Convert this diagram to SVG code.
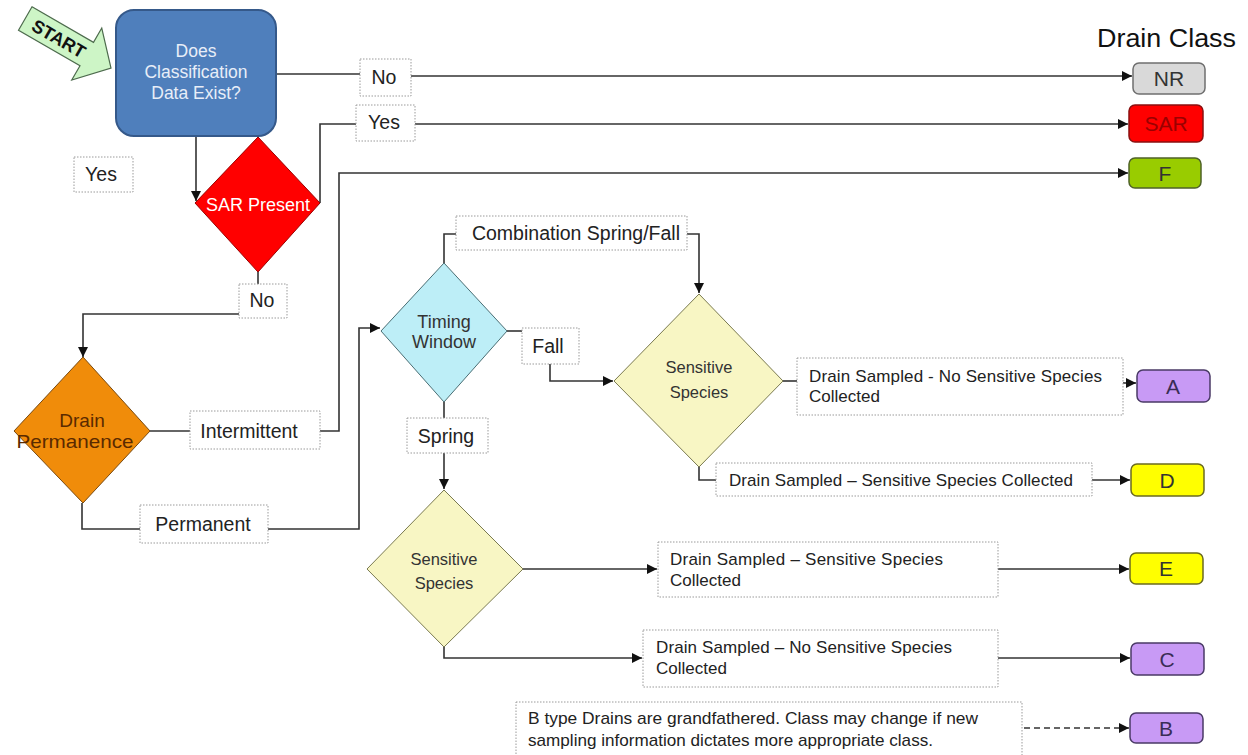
<svg xmlns="http://www.w3.org/2000/svg" width="1248" height="755" viewBox="0 0 1248 755">
<defs>
<marker id="ah" viewBox="0 0 10 10" refX="10" refY="5" markerWidth="10" markerHeight="10" markerUnits="userSpaceOnUse" orient="auto"><path d="M0,0 L10,5 L0,10 z" fill="#111"/></marker>
</defs>
<style>
text{font-family:"Liberation Sans",Arial,sans-serif}
.lbl{fill:#fff;stroke:#9a9a9a;stroke-width:1;stroke-dasharray:1.5,1.5}
.lt{font-size:19.5px;fill:#222}
.st{font-size:17px;fill:#222}
.c{fill:none;stroke:#333;stroke-width:1.6}
.cls{stroke-width:1.5}
.ct{font-size:21px;text-anchor:middle}
.dt{text-anchor:middle}
</style>
<rect width="1248" height="755" fill="#fff"/>

<g id="start">
<g transform="translate(111,68) rotate(30)">
<polygon points="-99,-13.5 -28,-13.5 -28,-30 0,0 -28,30 -28,13.5 -99,13.5" fill="#cdf5c6" stroke="#4d6b4d" stroke-width="1.2"/>
<text x="-60" y="7" font-size="18" font-weight="bold" fill="#111" text-anchor="middle">START</text>
</g>
</g>

<g id="connectors">
<path class="c" d="M196,136 V201" marker-end="url(#ah)"/>
<path class="c" d="M276,74 H360"/>
<path class="c" d="M411,76 H1132" marker-end="url(#ah)"/>
<path class="c" d="M320,203 V124 H356"/>
<path class="c" d="M415,124 H1128" marker-end="url(#ah)"/>
<path class="c" d="M258,272 V285"/>
<path class="c" d="M239,314 H83 V357" marker-end="url(#ah)"/>
<path class="c" d="M150,431 H190"/>
<path class="c" d="M320,431 H339 V173 H1128" marker-end="url(#ah)"/>
<path class="c" d="M82,503 V529 H140"/>
<path class="c" d="M268,529 H359 V328 H380" marker-end="url(#ah)"/>
<path class="c" d="M444,263 V234 H456"/>
<path class="c" d="M687,234 H699 V293" marker-end="url(#ah)"/>
<path class="c" d="M507,331 H522"/>
<path class="c" d="M550,364 V381 H613" marker-end="url(#ah)"/>
<path class="c" d="M783,381 H797"/>
<path class="c" d="M1123,383 H1136" marker-end="url(#ah)"/>
<path class="c" d="M699,467 V480 H716"/>
<path class="c" d="M1092,480 H1130" marker-end="url(#ah)"/>
<path class="c" d="M444,402 V418"/>
<path class="c" d="M444,453 V489" marker-end="url(#ah)"/>
<path class="c" d="M523,569 H657" marker-end="url(#ah)"/>
<path class="c" d="M998,569 H1129" marker-end="url(#ah)"/>
<path class="c" d="M444,647 V658 H642" marker-end="url(#ah)"/>
<path class="c" d="M998,658 H1130" marker-end="url(#ah)"/>
<path class="c" d="M1024,728 H1129" stroke-dasharray="6,4" marker-end="url(#ah)"/>
</g>

<g id="q-data">
<rect x="116" y="10" width="160" height="126" rx="18" fill="#4f7fbc" stroke="#35598a" stroke-width="2"/>
<text x="196" y="57" font-size="17.5" fill="#e8eef8" class="dt">Does</text>
<text x="196" y="78" font-size="17.5" fill="#e8eef8" class="dt">Classification</text>
<text x="196" y="99" font-size="17.5" fill="#e8eef8" class="dt">Data Exist?</text>
</g>

<g id="sar-present">
<polygon points="258,137 320,203 258,272 195,203" fill="#ff0000" stroke="#9a0000" stroke-width="1"/>
<text x="258" y="211" font-size="18" fill="#fff" class="dt">SAR Present</text>
</g>

<g id="drain-permanence">
<polygon points="83,357 150,431 83,503 14,431" fill="#f08c0a" stroke="#7a4a10" stroke-width="1"/>
<text x="82" y="427" font-size="19" fill="#5a2a00" class="dt">Drain</text>
<text x="75" y="448" font-size="19" fill="#5a2a00" class="dt" textLength="117" lengthAdjust="spacingAndGlyphs">Permanence</text>
</g>

<g id="timing-window">
<polygon points="444,263 507,331 444,402 381,331" fill="#bdeef7" stroke="#4a6e74" stroke-width="1"/>
<text x="444" y="328" font-size="18" fill="#333" class="dt">Timing</text>
<text x="444" y="348" font-size="18" fill="#333" class="dt">Window</text>
</g>

<g id="sensitive-1">
<polygon points="699,294 783,381 699,467 614,381" fill="#f8f6c4" stroke="#7a7a50" stroke-width="1"/>
<text x="699" y="373" font-size="16.5" fill="#333" class="dt">Sensitive</text>
<text x="699" y="398" font-size="16.5" fill="#333" class="dt">Species</text>
</g>

<g id="sensitive-2">
<polygon points="444,490 523,569 444,647 367,569" fill="#f8f6c4" stroke="#7a7a50" stroke-width="1"/>
<text x="444" y="565" font-size="16.5" fill="#333" class="dt">Sensitive</text>
<text x="444" y="589" font-size="16.5" fill="#333" class="dt">Species</text>
</g>

<g id="labels">
<g id="lbl-yes-standalone"><rect class="lbl" x="74" y="157" width="59" height="35"/><text class="lt dt" x="101" y="181">Yes</text></g>
<g id="lbl-no-1"><rect class="lbl" x="360" y="59" width="51" height="37"/><text class="lt dt" x="384" y="84">No</text></g>
<g id="lbl-yes-1"><rect class="lbl" x="356" y="105" width="59" height="36"/><text class="lt dt" x="384" y="129">Yes</text></g>
<g id="lbl-no-2"><rect class="lbl" x="239" y="284" width="48" height="34"/><text class="lt dt" x="262" y="307">No</text></g>
<g id="lbl-intermittent"><rect class="lbl" x="190" y="411" width="130" height="38"/><text class="lt dt" x="249" y="438">Intermittent</text></g>
<g id="lbl-permanent"><rect class="lbl" x="140" y="505" width="128" height="38"/><text class="lt dt" x="203" y="531">Permanent</text></g>
<g id="lbl-combo"><rect class="lbl" x="456" y="216" width="231" height="34"/><text class="lt dt" x="576" y="240">Combination Spring/Fall</text></g>
<g id="lbl-fall"><rect class="lbl" x="522" y="328" width="57" height="36"/><text class="lt dt" x="548" y="353">Fall</text></g>
<g id="lbl-spring"><rect class="lbl" x="407" y="418" width="81" height="35"/><text class="lt dt" x="446" y="443">Spring</text></g>
<g id="lbl-a"><rect class="lbl" x="797" y="358" width="326" height="57"/><text class="st" x="809" y="382" textLength="293" lengthAdjust="spacing">Drain Sampled - No Sensitive Species</text><text class="st" x="809" y="402">Collected</text></g>
<g id="lbl-d"><rect class="lbl" x="716" y="463" width="376" height="33"/><text class="st" x="729" y="486" textLength="344" lengthAdjust="spacing">Drain Sampled – Sensitive Species Collected</text></g>
<g id="lbl-e"><rect class="lbl" x="658" y="542" width="340" height="55"/><text class="st" x="670" y="565" textLength="273" lengthAdjust="spacing">Drain Sampled –  Sensitive Species</text><text class="st" x="670" y="586">Collected</text></g>
<g id="lbl-c"><rect class="lbl" x="643" y="630" width="355" height="57"/><text class="st" x="656" y="653" textLength="296" lengthAdjust="spacing">Drain Sampled – No Sensitive Species</text><text class="st" x="656" y="674">Collected</text></g>
<g id="lbl-b"><rect class="lbl" x="516" y="702" width="506" height="60"/><text class="st" x="528" y="724" textLength="450" lengthAdjust="spacingAndGlyphs">B type Drains are grandfathered.  Class may change if new</text><text class="st" x="528" y="746" textLength="405" lengthAdjust="spacingAndGlyphs">sampling information dictates more appropriate  class.</text></g>
</g>

<g id="drain-class">
<text x="1097" y="47" font-size="25" fill="#111" textLength="139" lengthAdjust="spacingAndGlyphs">Drain Class</text>
<g id="cls-nr"><rect x="1133" y="63" width="72" height="31" rx="6" fill="#d9d9d9" stroke="#6f6f6f" class="cls"/><text class="ct" x="1169" y="86" fill="#333">NR</text></g>
<g id="cls-sar"><rect x="1129" y="105" width="74" height="37" rx="6" fill="#ff0000" stroke="#8a1010" class="cls"/><text class="ct" x="1166" y="131" fill="#9a0000">SAR</text></g>
<g id="cls-f"><rect x="1129" y="158" width="72" height="30" rx="6" fill="#99cc00" stroke="#4f6228" class="cls"/><text class="ct" x="1165" y="181" fill="#333">F</text></g>
<g id="cls-a"><rect x="1137" y="370" width="73" height="32" rx="6" fill="#c89af5" stroke="#4a3a66" class="cls"/><text class="ct" x="1173" y="394" fill="#3a2d55">A</text></g>
<g id="cls-d"><rect x="1131" y="464" width="73" height="32" rx="6" fill="#ffff00" stroke="#6b6b20" class="cls"/><text class="ct" x="1167" y="488" fill="#333">D</text></g>
<g id="cls-e"><rect x="1130" y="553" width="73" height="31" rx="6" fill="#ffff00" stroke="#6b6b20" class="cls"/><text class="ct" x="1166" y="576" fill="#333">E</text></g>
<g id="cls-c"><rect x="1131" y="643" width="73" height="32" rx="6" fill="#c89af5" stroke="#4a3a66" class="cls"/><text class="ct" x="1167" y="667" fill="#3a2d55">C</text></g>
<g id="cls-b"><rect x="1130" y="713" width="73" height="30" rx="6" fill="#c89af5" stroke="#4a3a66" class="cls"/><text class="ct" x="1166" y="736" fill="#3a2d55">B</text></g>
</g>
</svg>
